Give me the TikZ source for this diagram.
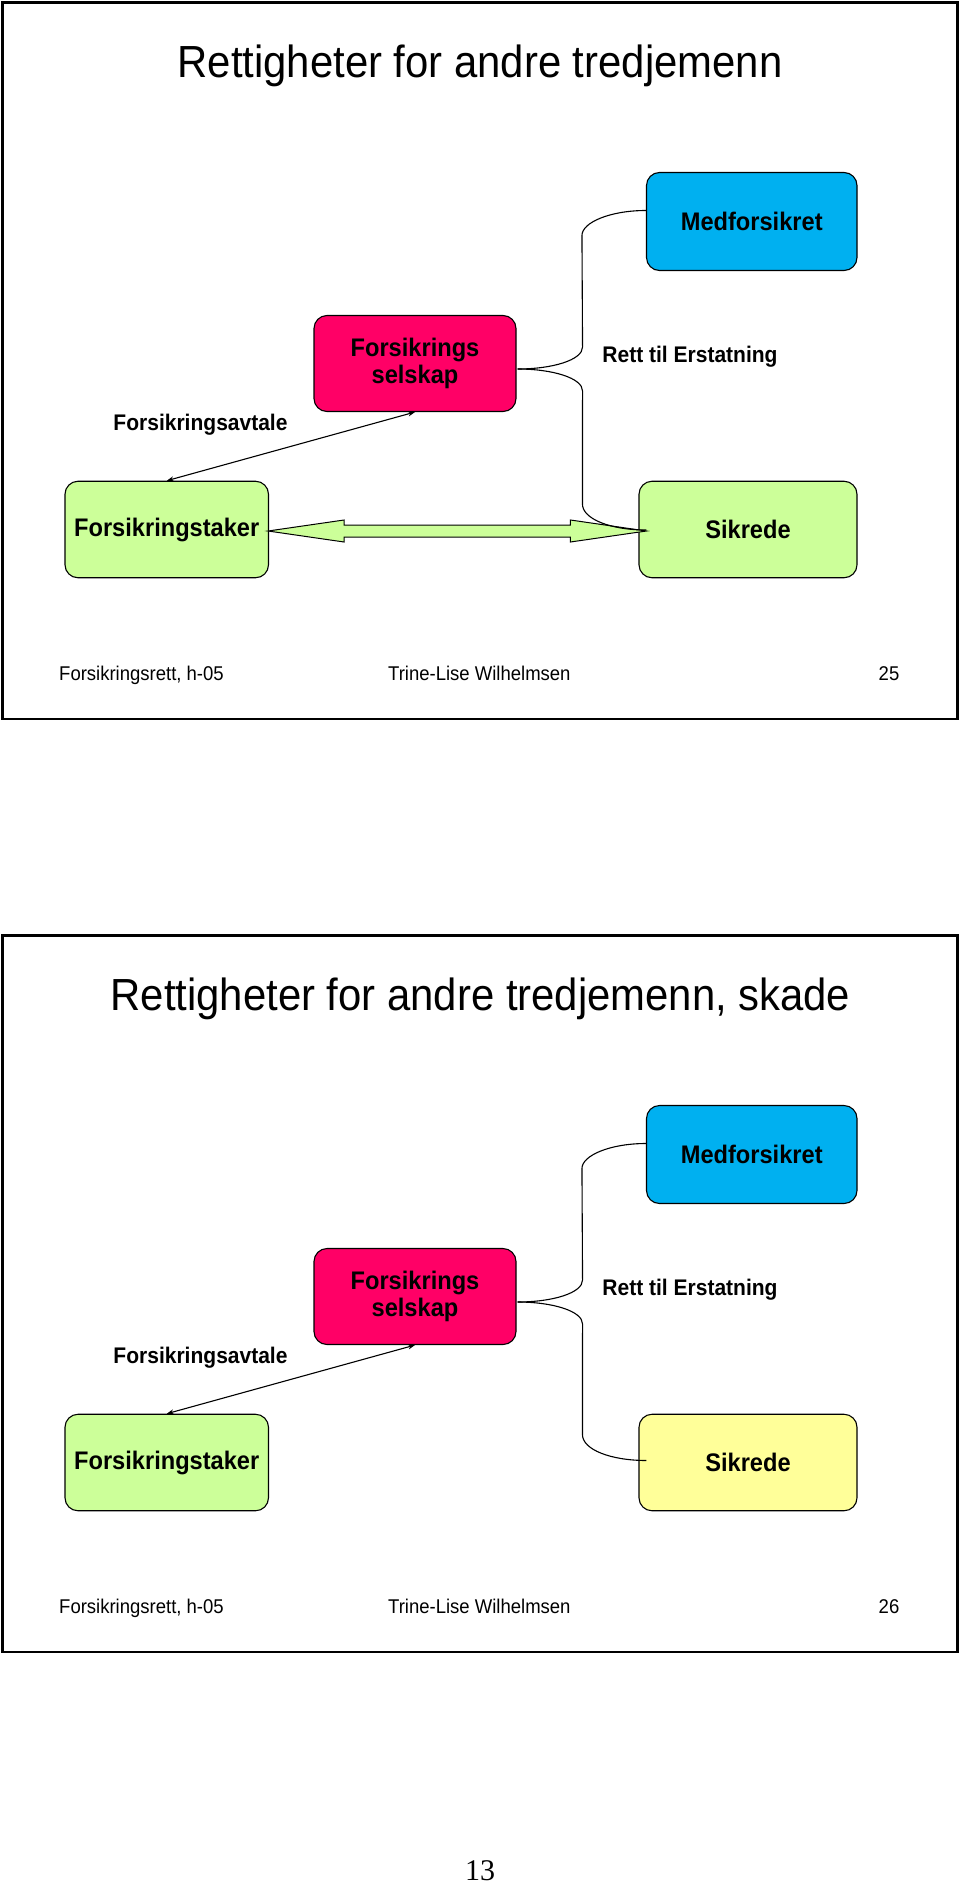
\documentclass[tikz,border=0pt]{standalone}
\usepackage{fontspec}
\setmainfont{Liberation Sans}[FakeStretch=0.93]
\newfontfamily\pagenumfont{Liberation Serif}
\usetikzlibrary{calc,arrows.meta}
\definecolor{medblue}{RGB}{0,176,240}
\definecolor{selred}{RGB}{255,0,102}
\definecolor{palegreen}{RGB}{204,255,153}
\definecolor{paleyellow}{RGB}{255,255,153}
\tikzset{
  frame/.style={draw=black, line width=2.4pt},
  boxnode/.style={draw=black, line width=1.1pt, rounded corners=13pt, align=center,
    inner sep=0pt, font=\bfseries\fontsize{25.4}{27.5}\selectfont},
  titletext/.style={font=\fontsize{45}{50}\selectfont, inner sep=0pt},
  labeltext/.style={font=\bfseries\fontsize{22.6}{25}\selectfont, inner sep=0pt},
  foottext/.style={font=\fontsize{19.9}{22}\selectfont, inner sep=0pt},
  conn/.style={draw=black, line width=1.1pt},
  thinarrow/.style={draw=black, line width=1.1pt, {Stealth[length=7pt,width=5pt]}-{Stealth[length=7pt,width=5pt]}},
  bigarrow/.style={draw=black, line width=1pt, fill=palegreen, line join=miter}
}
\begin{document}
\begin{tikzpicture}[x=1pt,y=-1pt]
\useasboundingbox (0,0) rectangle (960,1884);
\fill[white] (0,0) rectangle (960,1884);

% ================= Slide 25 =================
\draw[frame] (2.5,2.5) rectangle (957.5,719);
\node[titletext] (t1) at (480,66) {Rettigheter for andre tredjemenn};

\node[boxnode, fill=medblue, minimum width=210.5pt, minimum height=98pt] (med1) at (751.75,221.5) {Medforsikret};
\node[boxnode, fill=selred, minimum width=202pt, minimum height=96pt] (sel1) at (415,363.5) {Forsikrings\\selskap};
\node[boxnode, fill=palegreen, minimum width=203.5pt, minimum height=96.5pt] (tak1) at (166.75,529.5) {Forsikringstaker};
\node[boxnode, fill=palegreen, minimum width=218pt, minimum height=96.5pt] (sik1) at (748,529.5) {Sikrede};

\node[labeltext] (avt1) at (200.5,424.5) {Forsikringsavtale};
\node[labeltext] (rett1) at (690,357) {Rett til Erstatning};

\draw[thinarrow] (tak1.north) -- (sel1.south);

% double arrow
\coordinate (da1) at ($(tak1.east)+(-1,1.5)$);
\coordinate (db1) at ($(sik1.west)+(8,1.5)$);
\draw[bigarrow] (da1) -- ($(da1)+(76,-11)$) -- ($(da1)+(76,-6)$) -- ($(db1)+(-76,-6)$)
  -- ($(db1)+(-76,-11)$) -- (db1) -- ($(db1)+(-76,11)$) -- ($(db1)+(-76,6)$)
  -- ($(da1)+(76,6)$) -- ($(da1)+(76,11)$) -- cycle;

% brace
\coordinate (bm1) at ($(sel1.east)+(1,5.5)$);
\coordinate (bt1) at ($(med1.west)+(0,-11)$);
\coordinate (bb1) at ($(sik1.west)+(8,0.5)$);
\draw[conn] (bt1) .. controls ($(bt1)+(-36,0)$) and ($(bt1)+(-64,12)$) .. ($(bt1)+(-64,25)$)
  -- ($(bm1)+(65,-22)$) .. controls ($(bm1)+(65,-9)$) and ($(bm1)+(35,0)$) .. (bm1);
\draw[conn] (bm1) .. controls ($(bm1)+(35,0)$) and ($(bm1)+(65,9)$) .. ($(bm1)+(65,22)$)
  -- ($(bb1)+(-64,-26)$) .. controls ($(bb1)+(-64,-11)$) and ($(bb1)+(-36,0)$) .. (bb1);

\node[foottext, anchor=base west] (fa1) at (59,680) {Forsikringsrett, h-05};
\node[foottext, anchor=base west] (fb1) at (388,680) {Trine-Lise Wilhelmsen};
\node[foottext, anchor=base east] (fc1) at (899.5,680) {25};

% ================= Slide 26 =================
\draw[frame] (2.5,935.5) rectangle (957.5,1652);
\node[titletext] (t2) at (480.5,999) {Rettigheter for andre tredjemenn, skade};

\node[boxnode, fill=medblue, minimum width=210.5pt, minimum height=98pt] (med2) at (751.75,1154.5) {Medforsikret};
\node[boxnode, fill=selred, minimum width=202pt, minimum height=96pt] (sel2) at (415,1296.5) {Forsikrings\\selskap};
\node[boxnode, fill=palegreen, minimum width=203.5pt, minimum height=96.5pt] (tak2) at (166.75,1462.5) {Forsikringstaker};
\node[boxnode, fill=paleyellow, minimum width=218pt, minimum height=96.5pt] (sik2) at (748,1462.5) {Sikrede};

\node[labeltext] (avt2) at (200.5,1357.5) {Forsikringsavtale};
\node[labeltext] (rett2) at (690,1290) {Rett til Erstatning};

\draw[thinarrow] (tak2.north) -- (sel2.south);

\coordinate (bm2) at ($(sel2.east)+(1,5.5)$);
\coordinate (bt2) at ($(med2.west)+(0,-11)$);
\coordinate (bb2) at ($(sik2.west)+(8,-2)$);
\draw[conn] (bt2) .. controls ($(bt2)+(-36,0)$) and ($(bt2)+(-64,12)$) .. ($(bt2)+(-64,25)$)
  -- ($(bm2)+(65,-22)$) .. controls ($(bm2)+(65,-9)$) and ($(bm2)+(35,0)$) .. (bm2);
\draw[conn] (bm2) .. controls ($(bm2)+(35,0)$) and ($(bm2)+(65,9)$) .. ($(bm2)+(65,22)$)
  -- ($(bb2)+(-64,-26)$) .. controls ($(bb2)+(-64,-11)$) and ($(bb2)+(-36,0)$) .. (bb2);

\node[foottext, anchor=base west] (fa2) at (59,1613) {Forsikringsrett, h-05};
\node[foottext, anchor=base west] (fb2) at (388,1613) {Trine-Lise Wilhelmsen};
\node[foottext, anchor=base east] (fc2) at (899.5,1613) {26};

% page number
\node[font=\pagenumfont\fontsize{30}{36}\selectfont, inner sep=0pt, anchor=base] (pg) at (480,1880) {13};
\end{tikzpicture}
\end{document}
